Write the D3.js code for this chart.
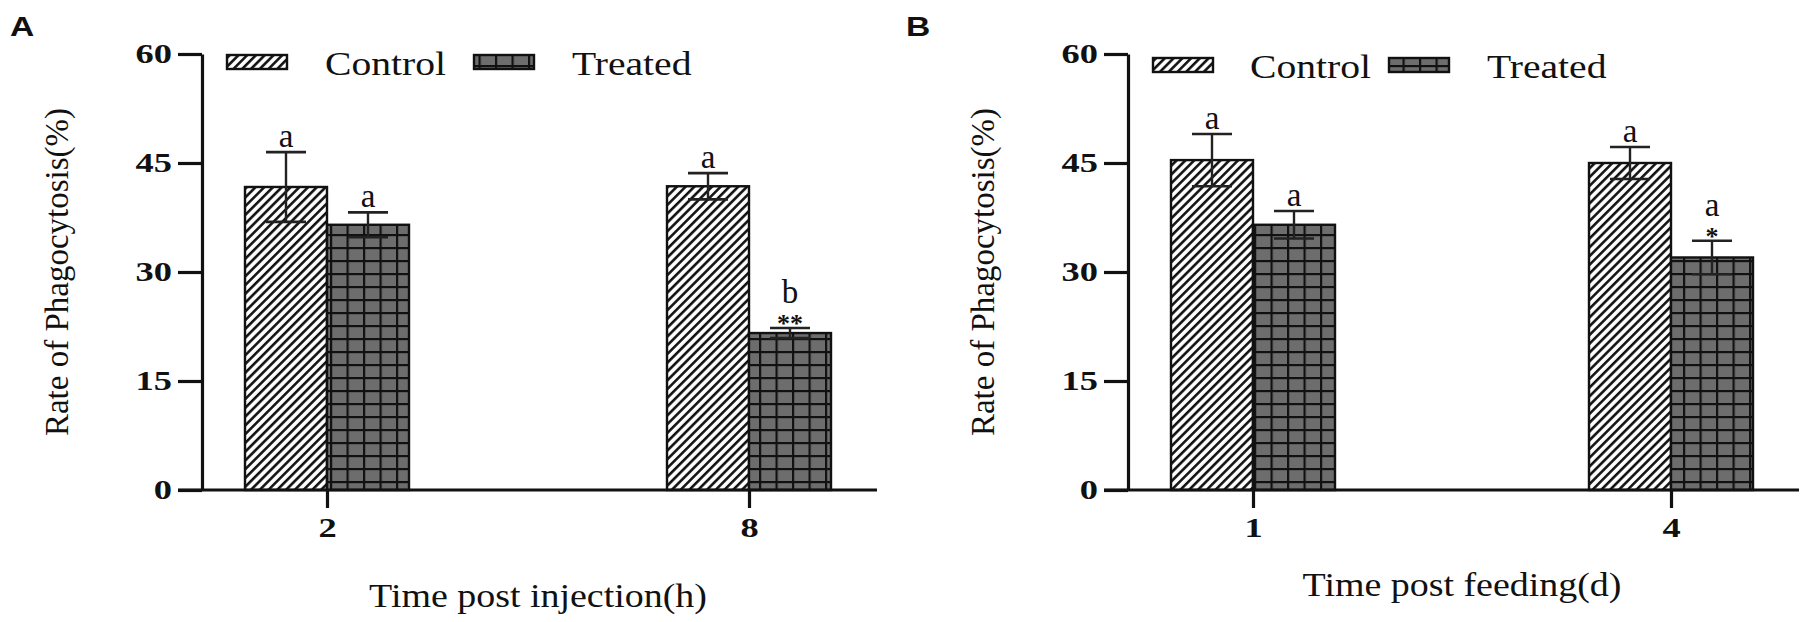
<!DOCTYPE html>
<html><head><meta charset="utf-8">
<script src="https://cdn.jsdelivr.net/npm/d3@7"></script>
<style>
html,body{margin:0;padding:0;background:#fff;}
svg{display:block;font-family:"Liberation Serif","Times New Roman",Times,serif;}
text{font-family:"Liberation Serif","Times New Roman",Times,serif;fill:#111;}
</style></head>
<body>
<svg id="chart" width="1807" height="622"></svg>
<script>
// ---------- data ----------
const yTickValues = [0, 15, 30, 45, 60];
const seriesNames = ["Control", "Treated"];
const yTitle = "Rate of Phagocytosis(%)";
const xTitles = ["Time post injection(h)", "Time post feeding(d)"];
const panelLabels = ["A", "B"];

const catsA = ["2", "8"];
const controlA = [41.7, 41.8];
const controlErrA = [4.8, 1.8];
const treatedA = [36.5, 21.6];
const treatedErrA = [1.7, 0.7];
const lettersControlA = ["a", "a"];
const lettersTreatedA = ["a", "b"];
const starsA = ["", "**"];

const catsB = ["1", "4"];
const controlB = [45.4, 45.0];
const controlErrB = [3.6, 2.2];
const treatedB = [36.5, 32.0];
const treatedErrB = [1.9, 2.3];
const lettersControlB = ["a", "a"];
const lettersTreatedB = ["a", "a"];
const starsB = ["", "*"];

// ---------- drawing ----------
const serif = '"Liberation Serif","Times New Roman",Times,serif';
const svg = d3.select("#chart");
const defs = svg.append("defs");

const hatch = defs.append("pattern").attr("id", "hatch")
  .attr("patternUnits", "userSpaceOnUse").attr("width", 6.2).attr("height", 6.2)
  .attr("patternTransform", "rotate(45)");
hatch.append("rect").attr("width", 6.2).attr("height", 6.2).attr("fill", "#fff");
hatch.append("line").attr("x1", 3).attr("x2", 3).attr("y1", 0).attr("y2", 6.2)
  .attr("stroke", "#111").attr("stroke-width", 2.6);

const grid = defs.append("pattern").attr("id", "grid")
  .attr("patternUnits", "userSpaceOnUse").attr("width", 16.5).attr("height", 13);
grid.append("rect").attr("width", 16.5).attr("height", 13).attr("fill", "#6d6d6d");
grid.append("line").attr("x1", 1).attr("x2", 1).attr("y1", 0).attr("y2", 13)
  .attr("stroke", "#111").attr("stroke-width", 2.4);
grid.append("line").attr("x1", 0).attr("x2", 16.5).attr("y1", 1).attr("y2", 1)
  .attr("stroke", "#111").attr("stroke-width", 2.4);

function hText(g, x, y, str, size, sx, opts = {}) {
  const t = g.append("text")
    .attr("transform", `translate(${x},${y}) scale(${sx},1)`)
    .attr("font-size", size)
    .attr("text-anchor", opts.anchor || "start")
    .style("font-family", opts.family || serif)
    .text(str);
  if (opts.weight) t.attr("font-weight", opts.weight);
  return t;
}

function panel(cfg) {
  const g = svg.append("g");
  const ax = cfg.axisX;
  const y = d3.scaleLinear().domain([0, 60]).range([490, 54]);
  const x = d3.scalePoint().domain(cfg.cats).range([ax + 125, ax + 125 + cfg.gap]);
  const bw = 82;

  // bars
  const sets = [
    { vals: cfg.control, errs: cfg.controlErr, fill: "url(#hatch)", off: -bw, letters: cfg.lettersControl, stars: cfg.cats.map(() => "") },
    { vals: cfg.treated, errs: cfg.treatedErr, fill: "url(#grid)", off: 0, letters: cfg.lettersTreated, stars: cfg.stars }
  ];
  sets.forEach(s => {
    g.selectAll(null).data(cfg.cats).join("rect")
      .attr("x", (c) => x(c) + s.off)
      .attr("y", (c, i) => y(s.vals[i]))
      .attr("width", bw)
      .attr("height", (c, i) => y(0) - y(s.vals[i]))
      .attr("fill", s.fill).attr("stroke", "#111").attr("stroke-width", 2.4);
  });
  sets.forEach(s => {
    cfg.cats.forEach((c, i) => {
      const cx = x(c) + s.off + bw / 2;
      const top = y(s.vals[i] + s.errs[i]);
      const bot = y(s.vals[i] - s.errs[i]);
      g.append("line").attr("x1", cx).attr("x2", cx).attr("y1", top).attr("y2", bot)
        .attr("stroke", "#222").attr("stroke-width", 2.4);
      [top, bot].forEach(yy => g.append("line").attr("x1", cx - 20).attr("x2", cx + 20)
        .attr("y1", yy).attr("y2", yy).attr("stroke", "#222").attr("stroke-width", 2.6));
      let base = top - 5;
      if (s.stars[i]) {
        g.append("text").attr("x", cx).attr("y", top + 4).attr("text-anchor", "middle")
          .style("font-family", serif)
          .attr("font-size", 26).attr("font-weight", "bold").text(s.stars[i]);
        base = top - 25;
      }
      g.append("text").attr("x", cx).attr("y", base).attr("text-anchor", "middle")
        .style("font-family", serif)
        .attr("font-size", 33).text(s.letters[i]);
    });
  });

  // y axis
  const ySx = 1.35;
  const yAxis = g.append("g").attr("transform", `translate(${ax},0)`)
    .call(d3.axisLeft(y).tickValues(yTickValues).tickSize(24).tickSizeOuter(0).tickPadding(6));
  yAxis.select(".domain").attr("stroke", "#111").attr("stroke-width", 3.2);
  yAxis.selectAll(".tick line").attr("stroke", "#111").attr("stroke-width", 3.2);
  yAxis.selectAll(".tick text").attr("font-size", 27).attr("font-weight", "bold")
    .style("font-family", serif).attr("fill", "#111")
    .attr("x", -30 / ySx).attr("transform", `scale(${ySx},1)`);

  // x axis
  const xAxis = g.append("g").attr("transform", `translate(0,${y(0)})`)
    .call(d3.axisBottom(x).tickSize(18).tickSizeOuter(0).tickPadding(10));
  xAxis.select(".domain").remove();
  xAxis.selectAll(".tick line").attr("stroke", "#111").attr("stroke-width", 3.2);
  xAxis.selectAll(".tick text").attr("font-size", 27).attr("font-weight", "bold")
    .style("font-family", serif).attr("fill", "#111")
    .attr("transform", "scale(1.35,1)");
  g.append("line").attr("x1", ax - 24).attr("x2", ax + cfg.xEnd).attr("y1", y(0)).attr("y2", y(0))
    .attr("stroke", "#111").attr("stroke-width", 3.2);

  // titles
  g.append("text").attr("transform", `translate(${ax - 145},${272}) rotate(-90)`)
    .attr("text-anchor", "middle").attr("dominant-baseline", "central")
    .style("font-family", serif)
    .attr("font-size", 33).text(yTitle);
  hText(g, (x(cfg.cats[0]) + x(cfg.cats[1])) / 2, cfg.xTitleY, cfg.xTitle, 33, 1.15, { anchor: "middle" });
  hText(g, cfg.labelX, 36, cfg.label, 28, 1.2, { weight: "bold", family: '"Liberation Sans",Arial,sans-serif' });

  // legend
  const L = cfg.legend;
  g.append("rect").attr("x", L[0]).attr("y", L[4]).attr("width", 60).attr("height", 14)
    .attr("fill", "url(#hatch)").attr("stroke", "#111").attr("stroke-width", 2.4);
  hText(g, L[1], L[4] + 20, seriesNames[0], 33, 1.2);
  g.append("rect").attr("x", L[2]).attr("y", L[4]).attr("width", 60).attr("height", 14)
    .attr("fill", "url(#grid)").attr("stroke", "#111").attr("stroke-width", 2.4);
  hText(g, L[3], L[4] + 20, seriesNames[1], 33, 1.2);
}

panel({ axisX: 202, gap: 422, xEnd: 675, cats: catsA, control: controlA, controlErr: controlErrA,
  treated: treatedA, treatedErr: treatedErrA, lettersControl: lettersControlA,
  lettersTreated: lettersTreatedA, stars: starsA, xTitle: xTitles[0], xTitleY: 607,
  label: panelLabels[0], labelX: 10, legend: [227, 325, 474, 572, 55] });
panel({ axisX: 1128, gap: 418, xEnd: 671, cats: catsB, control: controlB, controlErr: controlErrB,
  treated: treatedB, treatedErr: treatedErrB, lettersControl: lettersControlB,
  lettersTreated: lettersTreatedB, stars: starsB, xTitle: xTitles[1], xTitleY: 596,
  label: panelLabels[1], labelX: 906, legend: [1153, 1250, 1389, 1487, 58] });
</script>
</body></html>
